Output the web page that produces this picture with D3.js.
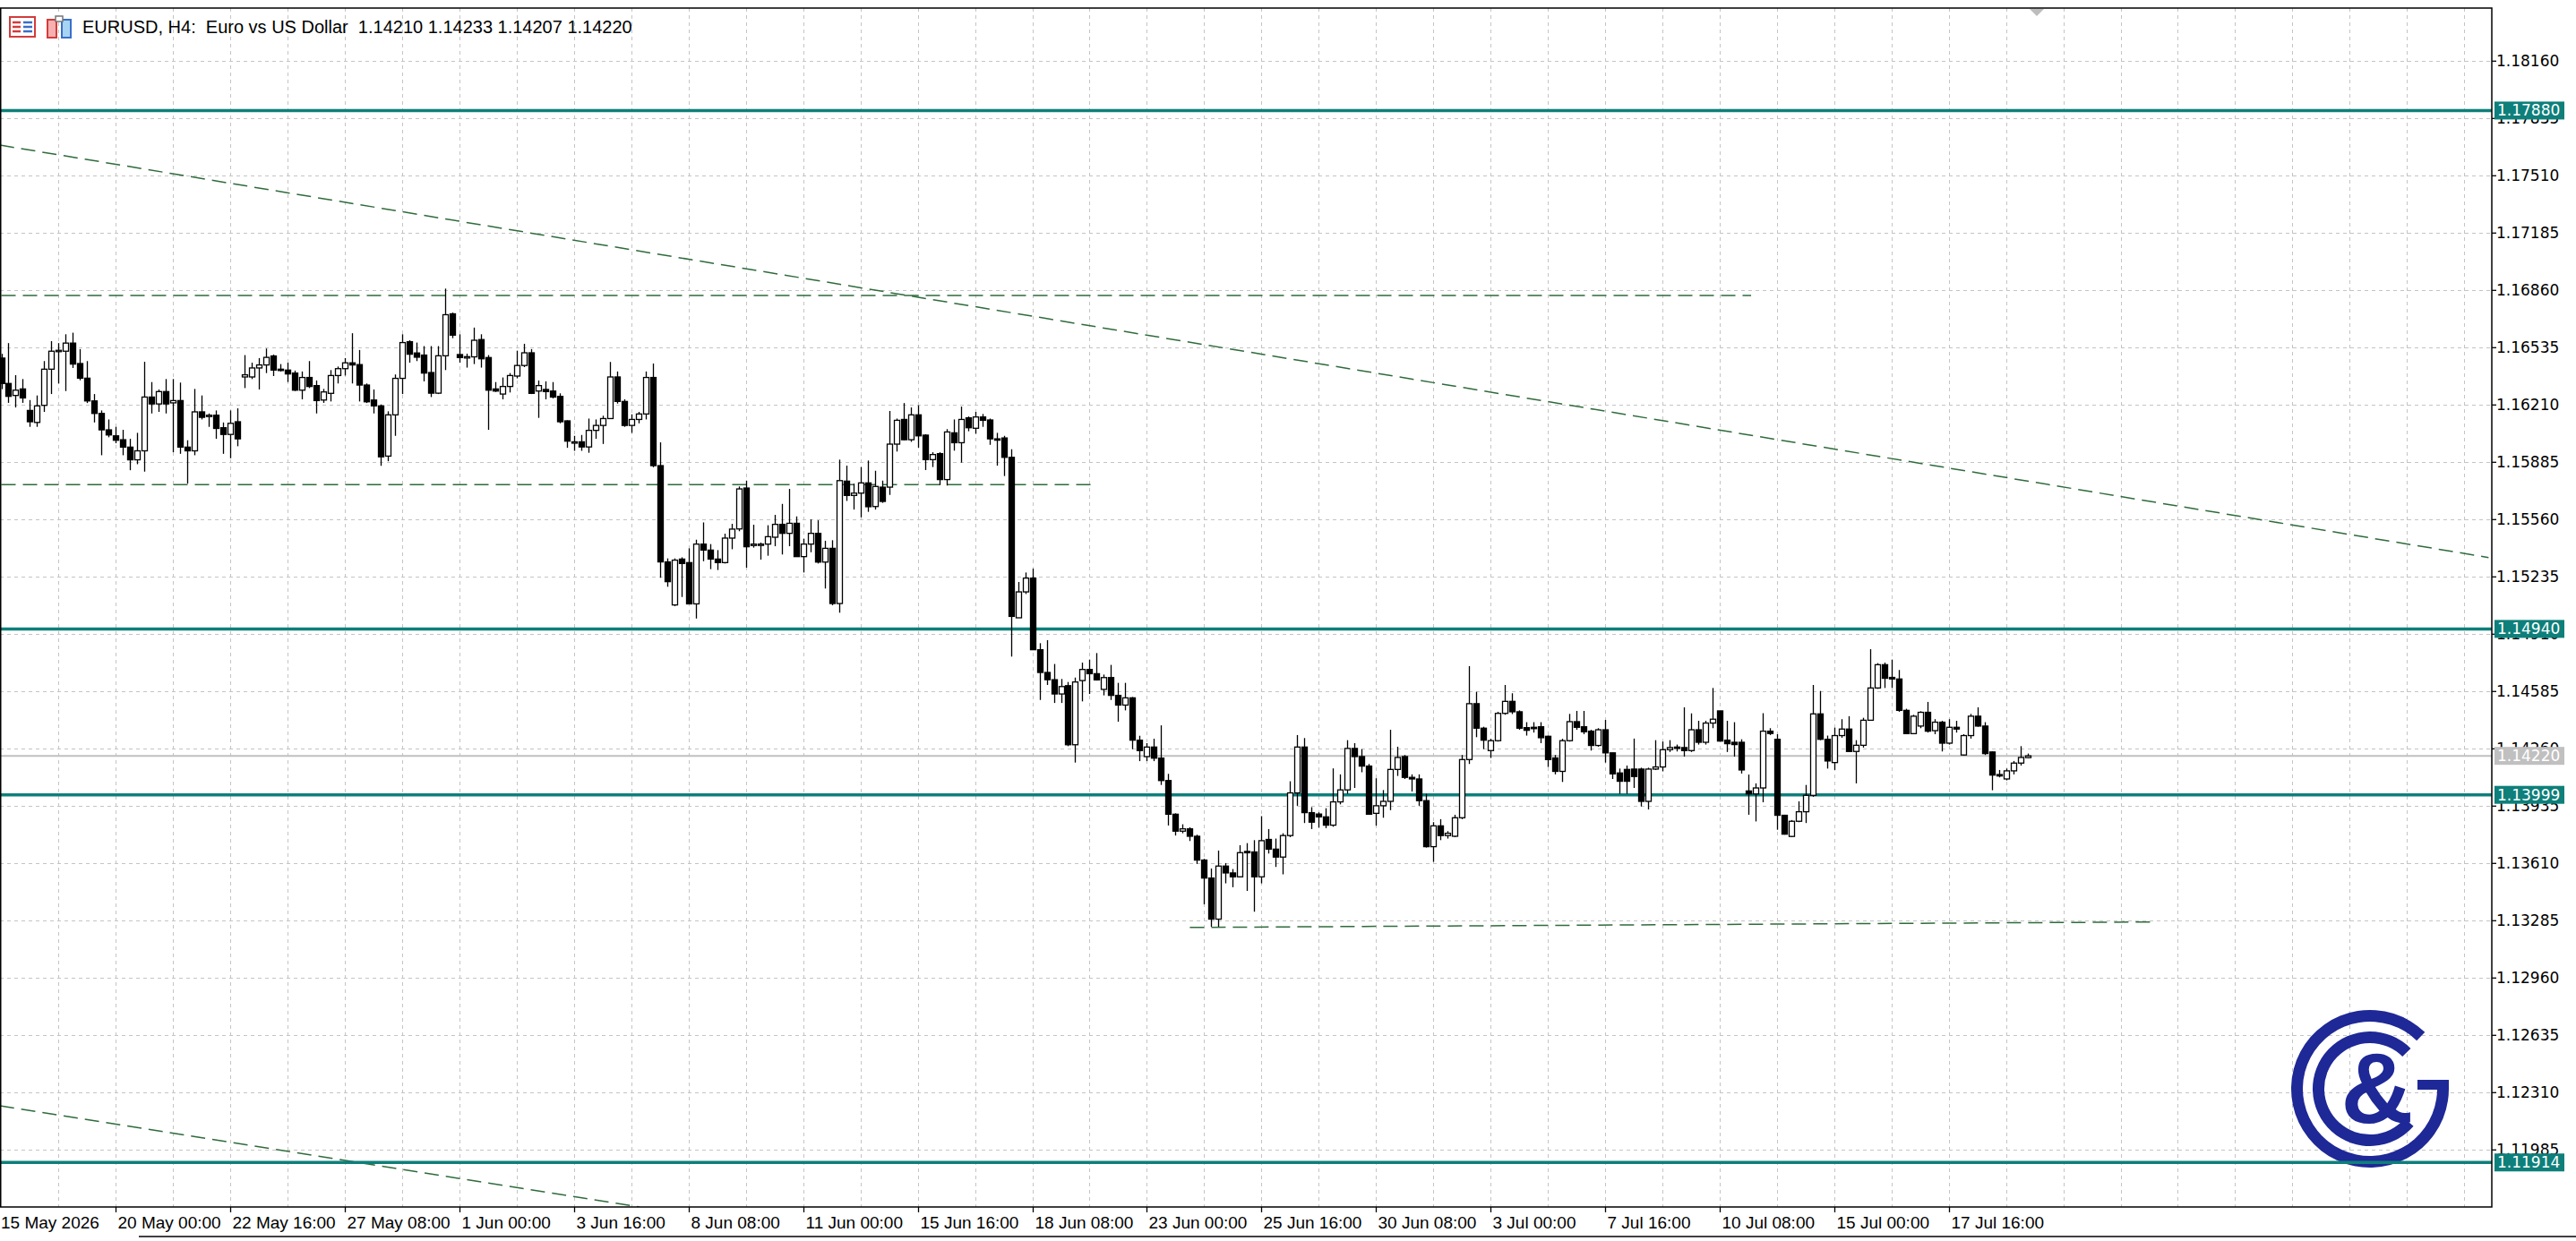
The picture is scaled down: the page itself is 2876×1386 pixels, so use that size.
<!DOCTYPE html>
<html lang="en">
<head>
<meta charset="UTF-8">
<title>EURUSD H4</title>
<script src="https://d3js.org/d3.v7.min.js"></script>
<style>
  body { margin: 0; background: #fff; }
  svg { display: block; }
  .price-lbl { font-family: "DejaVu Sans", sans-serif; font-size: 17px; fill: #000; }
  .time-lbl { font-family: "Liberation Sans", Arial, sans-serif; font-size: 19px; fill: #000; }
</style>
</head>
<body>
<svg id="chart" width="2876" height="1386"></svg>
<script>
// H4 candles, bar 0 = 15 May 2026
var opens = [
1.16476,1.16332,1.16264,1.16301,1.16179,1.16111,1.16208,1.16413,1.16515,1.16515,
1.16561,1.16445,1.16362,1.16233,1.16162,1.16069,1.16035,1.16013,1.15971,1.15899,
1.15950,1.16255,1.16216,1.16286,1.16222,1.16235,1.15971,1.15950,1.16171,1.16148,
1.16152,1.16081,1.16043,1.16115,1.16369,1.16369,1.16420,1.16437,1.16488,1.16413,
1.16408,1.16391,1.16294,1.16366,1.16320,1.16238,1.16276,1.16377,1.16416,1.16449,
1.16439,1.16323,1.16238,1.16205,1.15920,1.16154,1.16361,1.16569,1.16505,1.16493,
1.16394,1.16277,1.16489,1.16727,1.16496,1.16484,1.16483,1.16581,1.16479,1.16301,
1.16272,1.16315,1.16374,1.16434,1.16506,1.16289,1.16298,1.16289,1.16259,1.16120,
1.16001,1.16001,1.15972,1.16066,1.16094,1.16133,1.16369,1.16230,1.16094,1.16128,
1.16159,1.16366,1.15866,1.15320,1.15076,1.15336,1.15316,1.15082,1.15421,1.15387,
1.15336,1.15316,1.15455,1.15507,1.15739,1.15413,1.15421,1.15421,1.15460,1.15533,
1.15482,1.15539,1.15350,1.15421,1.15482,1.15319,1.15397,1.15084,1.15778,1.15697,
1.15710,1.15768,1.15634,1.15744,1.15744,1.15988,1.16128,1.16013,1.16154,1.16039,
1.15900,1.15934,1.15787,1.16052,1.15996,1.16137,1.16078,1.16142,1.16125,1.16018,
1.16023,1.15913,1.15003,1.15150,1.15228,1.14822,1.14693,1.14652,1.14571,1.14618,
1.14283,1.14647,1.14710,1.14686,1.14597,1.14664,1.14563,1.14508,1.14549,1.14309,
1.14216,1.14270,1.14207,1.14080,1.13889,1.13793,1.13806,1.13764,1.13629,1.13527,
1.13294,1.13595,1.13556,1.13534,1.13678,1.13675,1.13534,1.13746,1.13691,1.13646,
1.13768,1.14010,1.14270,1.13898,1.13890,1.13874,1.13827,1.13959,1.14027,1.14262,
1.14216,1.14162,1.13894,1.13937,1.13962,1.14143,1.14216,1.14098,1.14089,1.13966,
1.13705,1.13823,1.13768,1.13764,1.13869,1.14199,1.14516,1.14377,1.14250,1.14306,
1.14461,1.14529,1.14470,1.14380,1.14382,1.14385,1.14331,1.14208,1.14132,1.14306,
1.14414,1.14385,1.14360,1.14279,1.14368,1.14237,1.14123,1.14143,1.14145,1.14145,
1.13962,1.14145,1.14157,1.14255,1.14270,1.14267,1.14250,1.14368,1.14297,1.14406,
1.14475,1.14309,1.14297,1.14297,1.14021,1.14004,1.14038,1.14360,1.14314,1.13883,
1.13763,1.13849,1.13903,1.13996,1.14458,1.14314,1.14182,1.14335,1.14372,1.14245,
1.14280,1.14422,1.14605,1.14737,1.14665,1.14656,1.14478,1.14346,1.14389,1.14467,
1.14363,1.14411,1.14292,1.14382,1.14225,1.14335,1.14445,1.14389,1.14242,1.14114,
1.14089,1.14135,1.14179,1.14210];
var highs = [
1.16500,1.16561,1.16379,1.16357,1.16238,1.16264,1.16459,1.16572,1.16561,1.16611,
1.16620,1.16527,1.16459,1.16272,1.16179,1.16128,1.16086,1.16069,1.16018,1.16052,
1.16455,1.16340,1.16298,1.16357,1.16357,1.16337,1.16010,1.16301,1.16264,1.16162,
1.16179,1.16111,1.16179,1.16191,1.16493,1.16450,1.16476,1.16530,1.16496,1.16442,
1.16450,1.16405,1.16400,1.16459,1.16349,1.16301,1.16408,1.16428,1.16476,1.16617,
1.16522,1.16332,1.16298,1.16213,1.16174,1.16383,1.16611,1.16577,1.16564,1.16544,
1.16544,1.16544,1.16870,1.16734,1.16611,1.16501,1.16649,1.16611,1.16493,1.16340,
1.16366,1.16391,1.16518,1.16557,1.16527,1.16349,1.16344,1.16340,1.16276,1.16123,
1.16035,1.16040,1.16133,1.16128,1.16149,1.16454,1.16400,1.16242,1.16157,1.16171,
1.16400,1.16445,1.15998,1.15340,1.15340,1.15346,1.15397,1.15446,1.15544,1.15421,
1.15387,1.15480,1.15536,1.15748,1.15781,1.15531,1.15430,1.15528,1.15587,1.15649,
1.15734,1.15578,1.15451,1.15561,1.15556,1.15440,1.15443,1.15900,1.15866,1.15764,
1.15858,1.15895,1.15837,1.15781,1.16176,1.16133,1.16221,1.16196,1.16208,1.16044,
1.15942,1.15942,1.16073,1.16128,1.16201,1.16145,1.16171,1.16159,1.16133,1.16052,
1.16035,1.15959,1.15206,1.15260,1.15282,1.14859,1.14876,1.14741,1.14656,1.14639,
1.14664,1.14749,1.14766,1.14803,1.14681,1.14736,1.14634,1.14634,1.14554,1.14334,
1.14292,1.14317,1.14393,1.14118,1.13894,1.13832,1.13815,1.13773,1.13636,1.13581,
1.13683,1.13612,1.13578,1.13713,1.13725,1.13742,1.13878,1.13805,1.13751,1.13781,
1.14076,1.14338,1.14321,1.13929,1.13900,1.13923,1.14149,1.14115,1.14309,1.14292,
1.14258,1.14174,1.14093,1.14026,1.14368,1.14272,1.14225,1.14115,1.14115,1.14005,
1.13844,1.13861,1.13793,1.13886,1.14225,1.14729,1.14583,1.14385,1.14317,1.14470,
1.14622,1.14575,1.14478,1.14411,1.14411,1.14411,1.14335,1.14225,1.14317,1.14458,
1.14475,1.14475,1.14368,1.14377,1.14424,1.14238,1.14148,1.14165,1.14318,1.14153,
1.14153,1.14309,1.14301,1.14309,1.14284,1.14495,1.14461,1.14419,1.14419,1.14605,
1.14475,1.14419,1.14411,1.14314,1.14114,1.14064,1.14462,1.14377,1.14343,1.13886,
1.13856,1.13962,1.14055,1.14622,1.14588,1.14335,1.14380,1.14428,1.14445,1.14309,
1.14436,1.14825,1.14746,1.14749,1.14766,1.14707,1.14487,1.14453,1.14473,1.14526,
1.14428,1.14419,1.14428,1.14419,1.14343,1.14458,1.14495,1.14411,1.14245,1.14140,
1.14148,1.14191,1.14275,1.14233];
var lows = [
1.16300,1.16222,1.16196,1.16222,1.16086,1.16086,1.16171,1.16272,1.16332,1.16289,
1.16420,1.16350,1.16221,1.16111,1.15925,1.16027,1.15993,1.15925,1.15840,1.15874,
1.15832,1.16162,1.16171,1.16162,1.15942,1.15933,1.15764,1.15925,1.16128,1.16086,
1.16018,1.15933,1.15908,1.15976,1.16306,1.16357,1.16298,1.16391,1.16374,1.16400,
1.16340,1.16289,1.16242,1.16306,1.16162,1.16222,1.16230,1.16332,1.16377,1.16332,
1.16230,1.16221,1.16162,1.15865,1.15891,1.16035,1.16272,1.16450,1.16459,1.16344,
1.16255,1.16272,1.16408,1.16589,1.16450,1.16422,1.16442,1.16422,1.16069,1.16284,
1.16242,1.16281,1.16361,1.16425,1.16272,1.16137,1.16242,1.16247,1.16106,1.15967,
1.15950,1.15950,1.15939,1.16018,1.15989,1.16131,1.16218,1.16086,1.16052,1.16106,
1.16128,1.15857,1.15230,1.15179,1.15069,1.15121,1.15082,1.14999,1.15324,1.15279,
1.15274,1.15311,1.15392,1.15494,1.15287,1.15401,1.15333,1.15355,1.15409,1.15362,
1.15409,1.15350,1.15260,1.15375,1.15311,1.15169,1.15074,1.15032,1.15666,1.15617,
1.15573,1.15604,1.15617,1.15655,1.15700,1.15946,1.16010,1.16001,1.15968,1.15841,
1.15858,1.15756,1.15753,1.15951,1.15883,1.16061,1.16047,1.16086,1.15984,1.15866,
1.15807,1.14783,1.15003,1.15138,1.14822,1.14537,1.14622,1.14520,1.14520,1.14275,
1.14182,1.14529,1.14571,1.14647,1.14563,1.14537,1.14414,1.14478,1.14258,1.14190,
1.14190,1.14190,1.14055,1.13825,1.13768,1.13781,1.13737,1.13607,1.13378,1.13251,
1.13251,1.13497,1.13475,1.13531,1.13454,1.13336,1.13497,1.13666,1.13590,1.13548,
1.13759,1.13937,1.13839,1.13805,1.13813,1.13810,1.13818,1.13945,1.14005,1.14038,
1.14127,1.13886,1.13824,1.13869,1.13912,1.14106,1.14089,1.14018,1.13937,1.13700,
1.13619,1.13742,1.13751,1.13759,1.13861,1.14174,1.14326,1.14258,1.14208,1.14301,
1.14453,1.14457,1.14368,1.14335,1.14352,1.14292,1.14157,1.14115,1.14072,1.14301,
1.14368,1.14343,1.14250,1.14272,1.14182,1.14089,1.14005,1.14005,1.14038,1.13933,
1.13916,1.14140,1.14132,1.14242,1.14245,1.14216,1.14242,1.14284,1.14284,1.14377,
1.14301,1.14242,1.14216,1.14120,1.13886,1.13848,1.13957,1.14338,1.13801,1.13773,
1.13759,1.13844,1.13839,1.13988,1.14309,1.14148,1.14140,1.14323,1.14242,1.14064,
1.14267,1.14419,1.14600,1.14605,1.14605,1.14470,1.14343,1.14343,1.14377,1.14352,
1.14343,1.14245,1.14284,1.14352,1.14221,1.14318,1.14385,1.14225,1.14025,1.14098,
1.14081,1.14115,1.14165,1.14207];
var closes = [
1.16332,1.16259,1.16294,1.16250,1.16115,1.16205,1.16413,1.16515,1.16520,1.16561,
1.16442,1.16362,1.16233,1.16162,1.16069,1.16040,1.16010,1.15971,1.15899,1.15950,
1.16255,1.16216,1.16286,1.16216,1.16235,1.15971,1.15950,1.16171,1.16140,1.16152,
1.16077,1.16043,1.16106,1.16018,1.16381,1.16420,1.16437,1.16480,1.16408,1.16408,
1.16386,1.16294,1.16366,1.16315,1.16235,1.16284,1.16377,1.16416,1.16449,1.16437,
1.16323,1.16228,1.16205,1.15916,1.16154,1.16361,1.16564,1.16498,1.16481,1.16391,
1.16277,1.16489,1.16722,1.16606,1.16479,1.16484,1.16577,1.16472,1.16294,1.16289,
1.16315,1.16377,1.16434,1.16506,1.16276,1.16320,1.16286,1.16255,1.16115,1.16005,
1.16001,1.15972,1.16066,1.16094,1.16133,1.16369,1.16230,1.16094,1.16128,1.16159,
1.16366,1.15866,1.15320,1.15208,1.15330,1.15311,1.15082,1.15421,1.15387,1.15336,
1.15316,1.15455,1.15506,1.15734,1.15406,1.15421,1.15421,1.15463,1.15533,1.15482,
1.15539,1.15350,1.15421,1.15482,1.15319,1.15397,1.15084,1.15781,1.15697,1.15710,
1.15768,1.15633,1.15748,1.15663,1.15988,1.16123,1.16013,1.16154,1.16035,1.15900,
1.15929,1.15787,1.16057,1.15996,1.16128,1.16081,1.16142,1.16123,1.16018,1.16013,
1.15913,1.15011,1.15150,1.15228,1.14822,1.14693,1.14652,1.14571,1.14613,1.14283,
1.14639,1.14710,1.14686,1.14651,1.14664,1.14563,1.14508,1.14549,1.14309,1.14250,
1.14270,1.14207,1.14080,1.13889,1.13793,1.13806,1.13764,1.13629,1.13527,1.13294,
1.13595,1.13556,1.13534,1.13671,1.13671,1.13534,1.13739,1.13691,1.13646,1.13768,
1.14010,1.14270,1.13898,1.13844,1.13874,1.13827,1.13959,1.14027,1.14262,1.14216,
1.14162,1.13889,1.13937,1.13962,1.14143,1.14211,1.14098,1.14089,1.13966,1.13705,
1.13823,1.13768,1.13781,1.13869,1.14199,1.14516,1.14377,1.14309,1.14306,1.14461,
1.14529,1.14470,1.14377,1.14365,1.14377,1.14323,1.14199,1.14132,1.14306,1.14414,
1.14382,1.14357,1.14279,1.14368,1.14237,1.14118,1.14076,1.14076,1.14103,1.13962,
1.14145,1.14157,1.14255,1.14267,1.14263,1.14250,1.14368,1.14297,1.14406,1.14428,
1.14304,1.14289,1.14284,1.14140,1.14004,1.14038,1.14360,1.14347,1.13883,1.13776,
1.13849,1.13903,1.13996,1.14458,1.14314,1.14191,1.14335,1.14372,1.14245,1.14280,
1.14422,1.14605,1.14737,1.14660,1.14656,1.14478,1.14346,1.14445,1.14467,1.14360,
1.14411,1.14292,1.14382,1.14372,1.14335,1.14445,1.14389,1.14233,1.14111,1.14106,
1.14135,1.14179,1.14211,1.14220];

var priceTicks = [1.18160,1.17835,1.17510,1.17185,1.16860,1.16535,1.16210,1.15885,1.15560,
                  1.15235,1.14910,1.14585,1.14260,1.13935,1.13610,1.13285,1.12960,1.12635,1.12310,1.11985];
var timeLabels = ["15 May 2026","20 May 00:00","22 May 16:00","27 May 08:00","1 Jun 00:00","3 Jun 16:00",
                  "8 Jun 08:00","11 Jun 00:00","15 Jun 16:00","18 Jun 08:00","23 Jun 00:00","25 Jun 16:00",
                  "30 Jun 08:00","3 Jul 00:00","7 Jul 16:00","10 Jul 08:00","15 Jul 00:00","17 Jul 16:00"];
var levels = [1.17880, 1.14940, 1.13999, 1.11914];
var lastPrice = 1.14220;
// dashed drawings: [bar, price] -> [bar, price]
var dashedLines = [
  [[-0.2, 1.17684], [347.4, 1.15345]],
  [[-0.2, 1.12235], [89.1, 1.11662]],
  [[0, 1.16831], [244.4, 1.16831]],
  [[0, 1.15758], [152.2, 1.15758]],
  [[166, 1.13247], [301, 1.13278]]
];

var svg = d3.select("#chart");
var plotL = 0, plotT = 9, plotR = 2782, plotB = 1348;

var x = d3.scaleLinear().domain([0, 283]).range([1.5, 2263.6]);
var y = d3.scaleLinear().domain([1.18160, 1.11985]).range([68.3, 1284.3]);
var barsPerTick = 16;

svg.append("defs").append("clipPath").attr("id", "plot")
  .append("rect").attr("x", plotL).attr("y", plotT).attr("width", plotR - plotL).attr("height", plotB - plotT);

var plot = svg.append("g").attr("clip-path", "url(#plot)");

// grid
var gridBars = d3.range(8, 350, 8);
plot.selectAll(".vg").data(gridBars).enter().append("line")
  .attr("x1", d => Math.round(x(d)) + 0.5).attr("x2", d => Math.round(x(d)) + 0.5)
  .attr("y1", plotT).attr("y2", plotB)
  .attr("stroke", "#c4c4c4").attr("stroke-width", 1).attr("stroke-dasharray", "4,4");
plot.selectAll(".hg").data(priceTicks).enter().append("line")
  .attr("x1", plotL).attr("x2", plotR)
  .attr("y1", d => Math.round(y(d)) + 0.5).attr("y2", d => Math.round(y(d)) + 0.5)
  .attr("stroke", "#c4c4c4").attr("stroke-width", 1).attr("stroke-dasharray", "4,4");

// logo
var logo = plot.append("g").attr("transform", "translate(2646,1216)").attr("fill", "#1e2896");
logo.append("path").attr("d", d3.arc()({innerRadius: 75, outerRadius: 88, startAngle: Math.PI / 2 - 0.08, endAngle: 2 * Math.PI + 0.77}));
logo.append("rect").attr("x", 53).attr("y", -10).attr("width", 35).attr("height", 11);
logo.append("path").attr("d", d3.arc()({innerRadius: 51, outerRadius: 64, startAngle: 2.28, endAngle: 2 * Math.PI + 0.79}));
logo.append("text").attr("x", 8).attr("y", 38).attr("text-anchor", "middle")
  .attr("font-family", "Liberation Sans, Arial, sans-serif").attr("font-weight", "bold")
  .attr("font-size", 112).text("&");

// dashed drawings
plot.selectAll(".dl").data(dashedLines).enter().append("line")
  .attr("x1", d => x(d[0][0])).attr("y1", d => y(d[0][1]))
  .attr("x2", d => x(d[1][0])).attr("y2", d => y(d[1][1]))
  .attr("stroke", "#2f6b3c").attr("stroke-width", 1.5).attr("stroke-dasharray", "16,8");

// current price line
plot.append("line").attr("x1", plotL).attr("x2", plotR)
  .attr("y1", y(lastPrice)).attr("y2", y(lastPrice))
  .attr("stroke", "#c0c0c0").attr("stroke-width", 2);

// level lines
plot.selectAll(".lv").data(levels).enter().append("line")
  .attr("x1", plotL).attr("x2", plotR)
  .attr("y1", d => y(d)).attr("y2", d => y(d))
  .attr("stroke", "#0e7f7a").attr("stroke-width", 3.5);

// candles
var idx = d3.range(opens.length);
var cg = plot.append("g");
cg.selectAll(".wick").data(idx).enter().append("line")
  .attr("x1", i => Math.round(x(i)) + 0.5).attr("x2", i => Math.round(x(i)) + 0.5)
  .attr("y1", i => y(highs[i])).attr("y2", i => y(lows[i]))
  .attr("stroke", "#000").attr("stroke-width", 1.3);
cg.selectAll(".body").data(idx).enter().append("rect")
  .attr("x", i => Math.round(x(i)) - 2.5)
  .attr("width", 6)
  .attr("y", i => y(Math.max(opens[i], closes[i])))
  .attr("height", i => Math.max(1.5, Math.abs(y(opens[i]) - y(closes[i]))))
  .attr("fill", i => closes[i] >= opens[i] ? "#fff" : "#000")
  .attr("stroke", "#000").attr("stroke-width", 1.3);

// frame
svg.append("rect").attr("x", plotL + 0.75).attr("y", plotT).attr("width", plotR - plotL - 0.75).attr("height", plotB - plotT)
  .attr("fill", "none").attr("stroke", "#000").attr("stroke-width", 1.5);
svg.append("line").attr("x1", 155).attr("x2", 2876).attr("y1", 1381).attr("y2", 1381)
  .attr("stroke", "#000").attr("stroke-width", 1.5);

// shift marker
svg.append("path").attr("d", "M2266,10 L2282,10 L2274,18 Z").attr("fill", "#bdbdbd");

// price axis
var pa = svg.append("g");
pa.selectAll(".pt").data(priceTicks).enter().append("line")
  .attr("x1", plotR).attr("x2", plotR + 5).attr("y1", d => y(d)).attr("y2", d => y(d))
  .attr("stroke", "#000").attr("stroke-width", 1.3);
pa.selectAll(".pl").data(priceTicks).enter().append("text").attr("class", "price-lbl")
  .attr("x", plotR + 5).attr("y", d => y(d) + 6).text(d => d.toFixed(5));

function tag(p, bg) {
  pa.append("rect").attr("x", plotR + 3).attr("y", y(p) - 10).attr("width", 78).attr("height", 20).attr("fill", bg);
  pa.append("text").attr("class", "price-lbl").attr("x", plotR + 6).attr("y", y(p) + 6)
    .attr("fill", "#fff").style("fill", "#fff").text(p.toFixed(5));
}
tag(lastPrice, "#c0c0c0");
levels.forEach(p => tag(p, "#0e7f7a"));

// time axis
var ta = svg.append("g");
timeLabels.forEach(function(t, k) {
  var xx = Math.round(x(k * barsPerTick)) + 0.5;
  if (k > 0) ta.append("line").attr("x1", xx).attr("x2", xx).attr("y1", plotB).attr("y2", plotB + 6)
    .attr("stroke", "#000").attr("stroke-width", 1.3);
  ta.append("text").attr("class", "time-lbl").attr("x", k > 0 ? xx + 2 : 1).attr("y", plotB + 24).text(t);
});

// header
var hd = svg.append("g");
hd.append("rect").attr("x", 11).attr("y", 19).attr("width", 28).attr("height", 22).attr("fill", "#fff").attr("stroke", "#d23c3c").attr("stroke-width", 2);
[25, 30, 35].forEach(function(yy) {
  hd.append("line").attr("x1", 14).attr("x2", 23).attr("y1", yy).attr("y2", yy).attr("stroke", "#d23c3c").attr("stroke-width", 2.5);
  hd.append("line").attr("x1", 26).attr("x2", 36).attr("y1", yy).attr("y2", yy).attr("stroke", "#3a6fc8").attr("stroke-width", 2.5);
});
hd.append("rect").attr("x", 53).attr("y", 22).attr("width", 10).attr("height", 20).attr("fill", "#f6b0b0").attr("stroke", "#d23c3c").attr("stroke-width", 2);
hd.append("rect").attr("x", 69).attr("y", 22).attr("width", 10).attr("height", 20).attr("fill", "#a8d4f4").attr("stroke", "#3a6fc8").attr("stroke-width", 2);
hd.append("rect").attr("x", 62).attr("y", 18).attr("width", 8).attr("height", 6).attr("fill", "#fff").attr("stroke", "#777").attr("stroke-width", 1.5);
hd.append("text").attr("x", 92).attr("y", 37)
  .attr("font-family", "Liberation Sans, Arial, sans-serif").attr("font-size", 20)
  .attr("xml:space", "preserve").style("white-space", "pre")
  .text("EURUSD, H4:  Euro vs US Dollar  1.14210 1.14233 1.14207 1.14220");
</script>
</body>
</html>
